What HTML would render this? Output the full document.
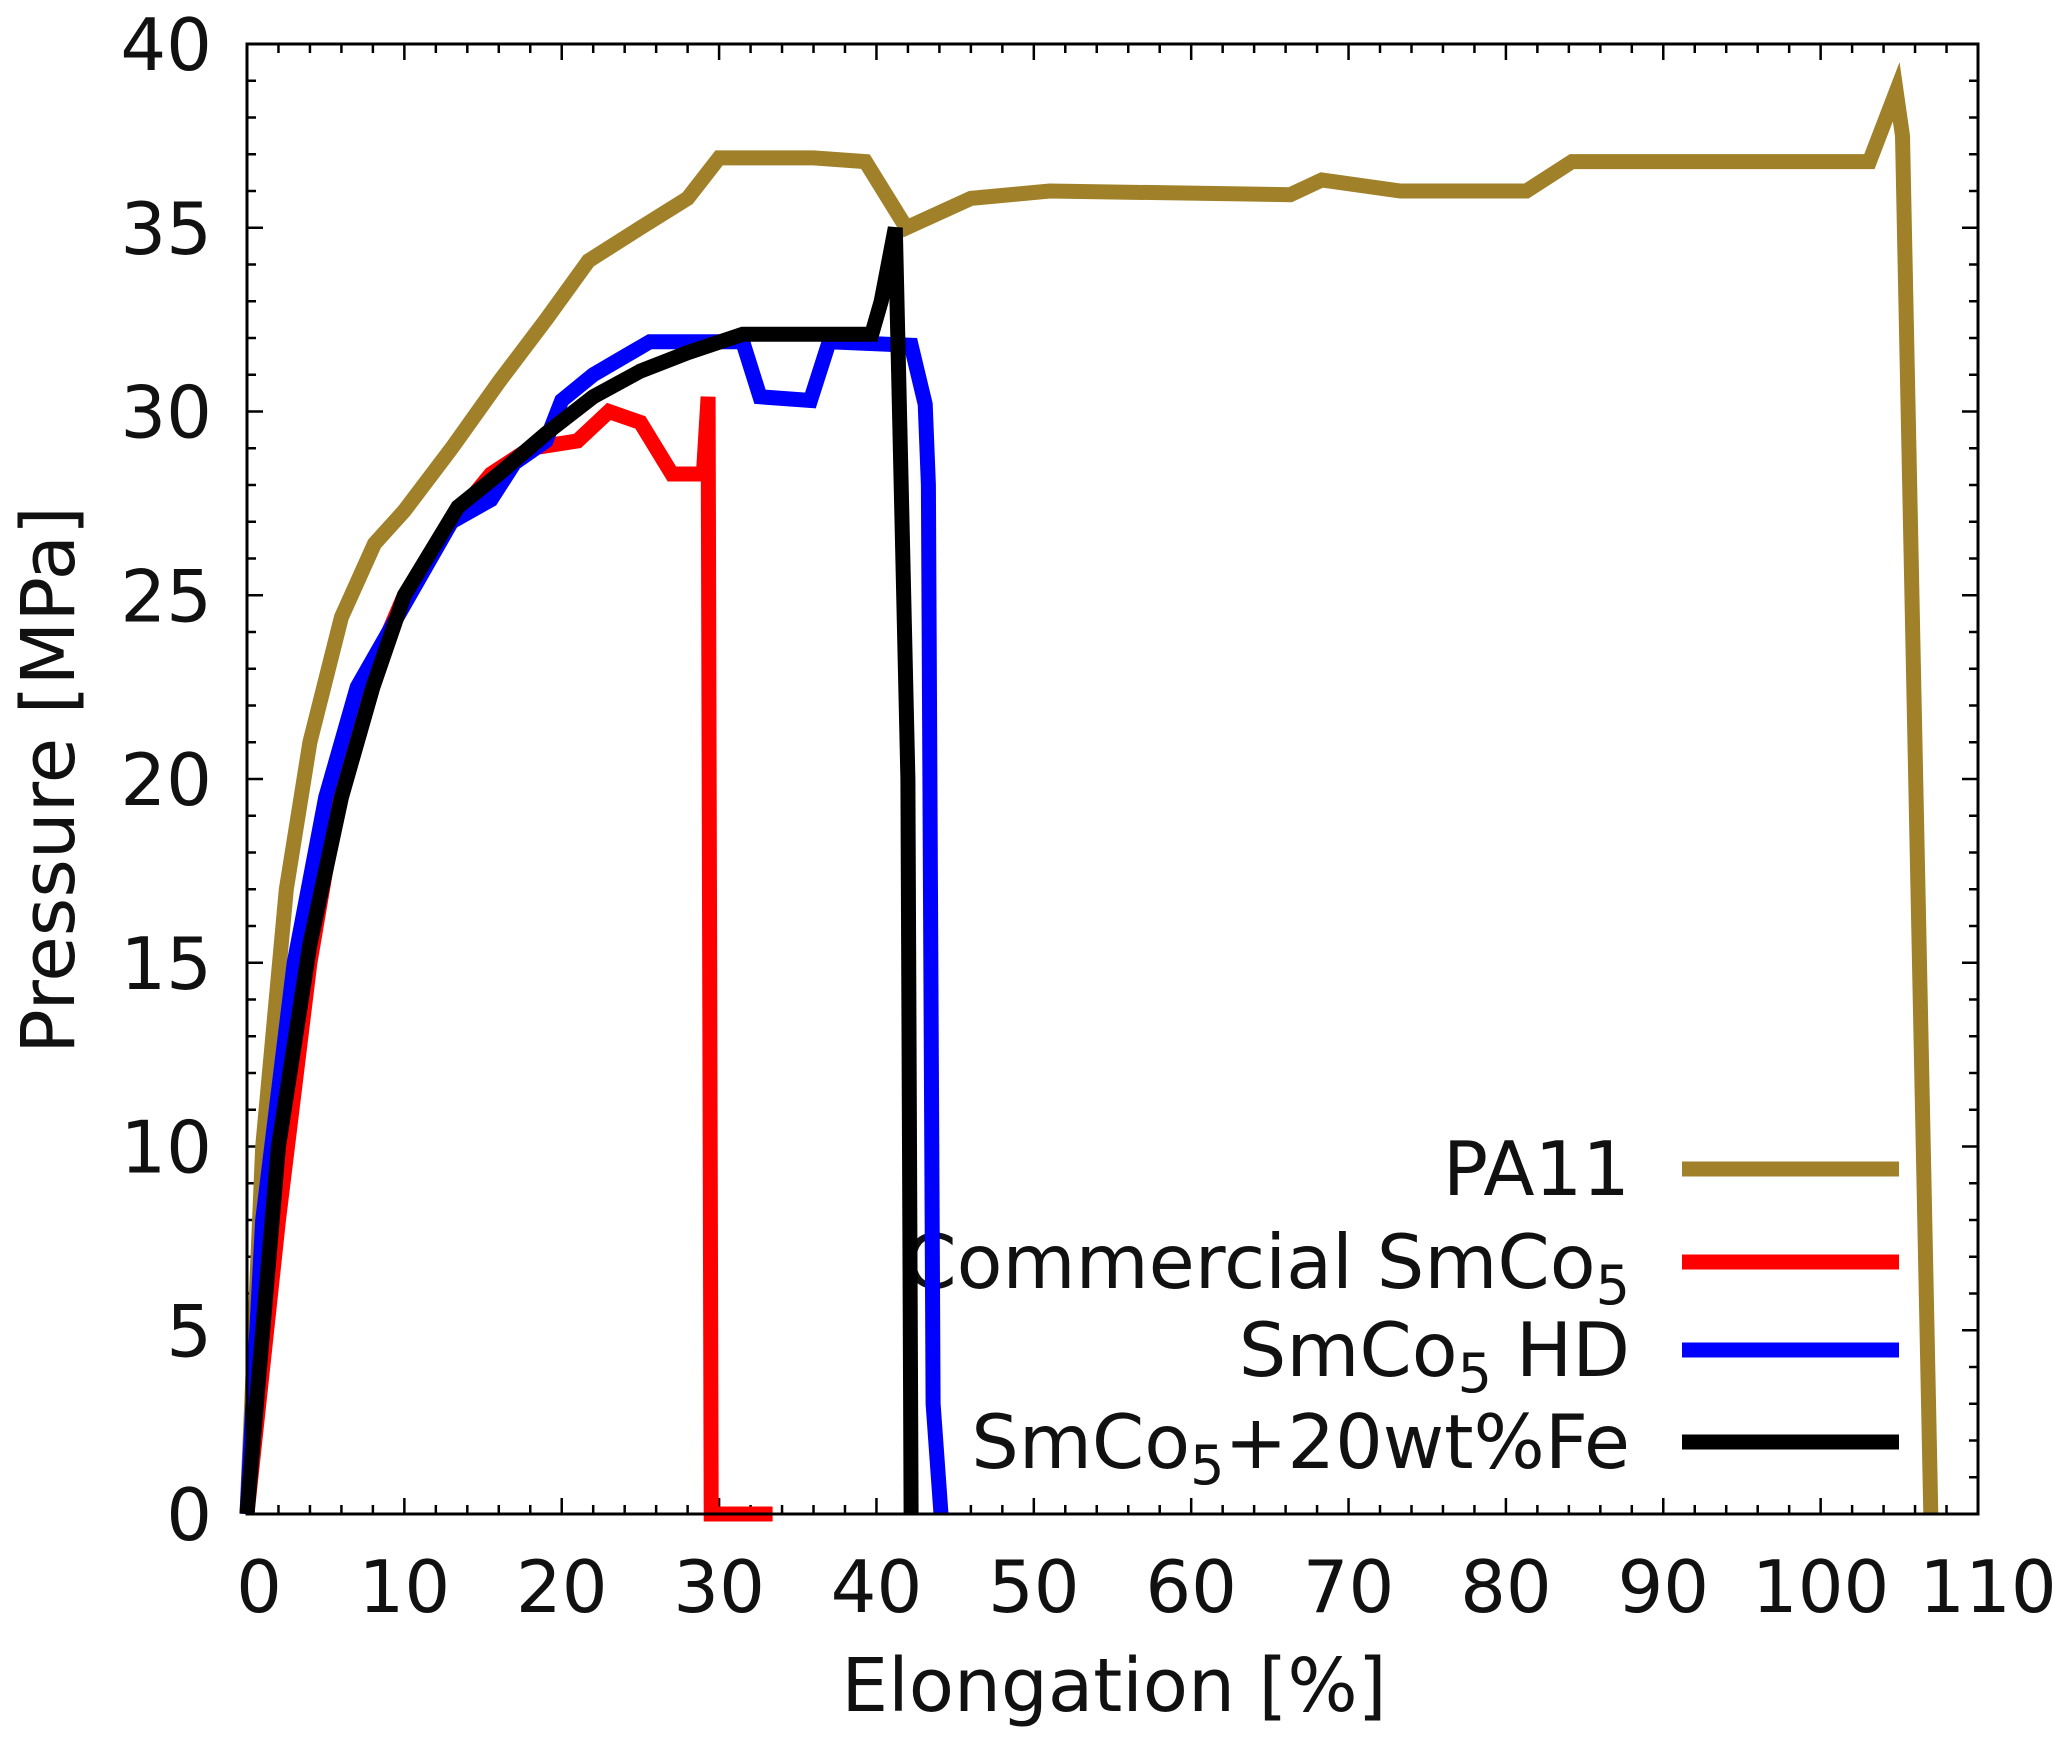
<!DOCTYPE html>
<html><head><meta charset="utf-8"><style>
html,body{margin:0;padding:0;background:#fff;}
svg{display:block;font-family:"DejaVu Sans","Liberation Sans",sans-serif;}
</style></head><body>
<svg id="chart" width="2072" height="1743" viewBox="0 0 2072 1743" xmlns="http://www.w3.org/2000/svg">
<rect width="2072" height="1743" fill="#fff"/>
<g id="ticks"></g>
<g id="legendText"></g>
<g id="series"></g>
<rect x="247" y="44" width="1731" height="1470" fill="none" stroke="#000" stroke-width="3"/>
<text x="1114" y="1711" font-size="74" text-anchor="middle" fill="#111">Elongation [%]</text>
<text transform="translate(74,780) rotate(-90)" font-size="74" text-anchor="middle" fill="#111">Pressure [MPa]</text>
</svg>
<script>
const xTicks=[0,10,20,30,40,50,60,70,80,90,100,110];
const yTicks=[0,5,10,15,20,25,30,35,40];
const seriesNames=["PA11","Commercial SmCo5","SmCo5 HD","SmCo5+20wt%Fe"];
const pa11X=[0,1,2.5,4,6,8.1,10,13,16,19,21.7,25,28,30,36,39.3,41.9,46,51,66.3,68.3,73.3,81.3,84.2,103.1,104.8,105.2,107];
const pa11Y=[0,10,17,21,24.4,26.4,27.3,29,30.8,32.5,34.1,35,35.8,36.9,36.9,36.8,35,35.8,36,35.9,36.3,36,36,36.8,36.8,38.7,37.5,0];
const comX=[0,2,4,6,8,10,13,15.5,18,21,23,25,27,29,29.3,29.5,33.4];
const comY=[0,8,15,20,23,25,27,28.3,29,29.2,30,29.7,28.3,28.3,30.4,0,0];
const hdX=[0,1,3,5,7,9,11,13,15.5,17,19,20,22,24,25.6,30,31.5,32.6,35.8,37,42.2,43.1,43.3,43.6,44.1];
const hdY=[0,8,15,19.5,22.5,24,25.5,27,27.6,28.6,29.2,30.3,31,31.5,31.9,31.9,31.9,30.4,30.3,31.9,31.8,30.2,28,3,0];
const feX=[0,2,4,6,8,10,13.4,16,19,22,25,28,31.5,35,39.7,40.3,41.2,42,42.2];
const feY=[0,10,15.5,19.5,22.5,25,27.4,28.3,29.4,30.4,31.1,31.6,32.1,32.1,32.1,33,35,20,0];
const colors=["#a08028","#ff0000","#0000ff","#000000"];
const NS="http://www.w3.org/2000/svg";
const L=247,R=1978,T=44,B=1514;
const sx=v=>L+(R-L)*v/110;
const sy=v=>B-(B-T)*v/40;
const tg=document.getElementById('ticks');
function line(g,x1,y1,x2,y2,w){const l=document.createElementNS(NS,'line');l.setAttribute('x1',x1);l.setAttribute('y1',y1);l.setAttribute('x2',x2);l.setAttribute('y2',y2);l.setAttribute('stroke','#000');l.setAttribute('stroke-width',w);


g.appendChild(l);}
for(let v=0;v<=110;v+=2){const x=sx(v);const maj=v%10===0;const len=maj?16:9;line(tg,x,B,x,B-len,2.5);line(tg,x,T,x,T+len,2.5);}
for(let v=0;v<=40;v+=1){const y=sy(v);const maj=v%5===0;const len=maj?16:9;line(tg,L,y,L+len,y,2.5);line(tg,R,y,R-len,y,2.5);}
xTicks.forEach(v=>{const t=document.createElementNS(NS,'text');t.setAttribute('x',sx(v)+(v===0?12:(v===110?10:0)));t.setAttribute('y',1612);t.setAttribute('font-size','72');t.setAttribute('text-anchor','middle');t.setAttribute('fill','#111');t.textContent=v;


tg.appendChild(t);});
yTicks.forEach(v=>{const t=document.createElementNS(NS,'text');t.setAttribute('x',212);t.setAttribute('y',sy(v)+26);t.setAttribute('font-size','72');t.setAttribute('text-anchor','end');t.setAttribute('fill','#111');t.textContent=v;


tg.appendChild(t);});
const lg=document.getElementById('legendText');
const legY=[1169,1262,1350,1442];
const legHTML=['PA11','Commercial SmCo<tspan font-size="54" dy="16">5</tspan>','SmCo<tspan font-size="54" dy="16">5</tspan><tspan dy="-16"> HD</tspan>','SmCo<tspan font-size="54" dy="16">5</tspan><tspan dy="-16">+20wt%Fe</tspan>'];
legHTML.forEach((h,i)=>{const t=document.createElementNS(NS,'text');t.setAttribute('x',1630);t.setAttribute('y',legY[i]+26);t.setAttribute('font-size','75');t.setAttribute('text-anchor','end');t.setAttribute('fill','#111');t.innerHTML=h;


lg.appendChild(t);
const l=document.createElementNS(NS,'line');l.setAttribute('x1',1682);l.setAttribute('x2',1899);l.setAttribute('y1',legY[i]);l.setAttribute('y2',legY[i]);l.setAttribute('stroke',colors[i]);l.setAttribute('stroke-width',15);


lg.appendChild(l);});
const sg=document.getElementById('series');
[[pa11X,pa11Y],[comX,comY],[hdX,hdY],[feX,feY]].forEach((s,i)=>{const p=document.createElementNS(NS,'polyline');p.setAttribute('points',s[0].map((x,j)=>sx(x).toFixed(1)+','+sy(s[1][j]).toFixed(1)).join(' '));p.setAttribute('fill','none');p.setAttribute('stroke',colors[i]);p.setAttribute('stroke-width',15);p.setAttribute('stroke-linejoin','miter');


sg.appendChild(p);});
</script>
</body></html>
